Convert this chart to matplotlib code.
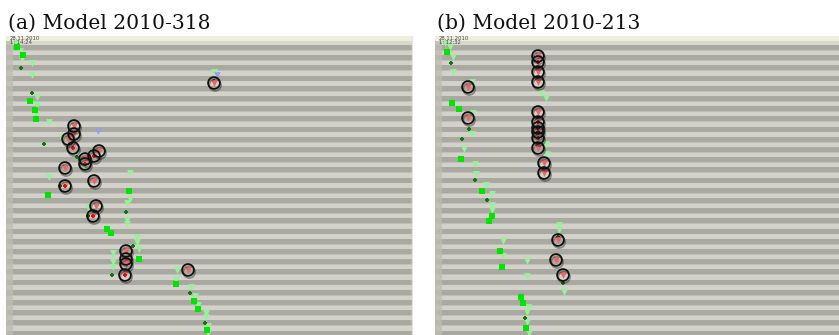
import matplotlib
matplotlib.use("Agg")
import matplotlib.pyplot as plt
import matplotlib.patheffects as pe

# Panel geometry in screen units (x = track position, y = time, both in px of the capture)
PANEL_H = 299

# ---- (a) Model 2010-318 ----
pale_a_x = [10, 14, 16, 26, 26, 31, 31, 30, 43, 56, 77, 43, 124, 124, 121, 82, 121, 121, 131, 131,
            133, 107, 107, 107, 171, 170, 185, 189, 192, 200, 200, 202, 202, 208]
pale_a_y = [7, 15, 23, 27, 39, 61, 69, 78, 86, 103, 130, 141, 137, 163, 167, 171, 184, 188, 201, 206,
            213, 217, 226, 231, 234, 243, 251, 260, 269, 277, 281, 290, 297, 36]
bright_a_x = [11, 17, 24, 29, 30, 42, 123, 101, 105, 133, 170, 188, 192, 201]
bright_a_y = [11, 19, 65, 74, 83, 159, 155, 193, 197, 223, 248, 265, 273, 294]
dark_a_x = [15, 26, 38, 71, 54, 82, 120, 127, 106, 184, 199, 208]
dark_a_y = [32, 57, 108, 121, 150, 180, 176, 210, 239, 257, 287, 45]
blue_a_x = [92, 211]
blue_a_y = [95, 39]
circ_a_x = [68, 68, 62, 67, 93, 88, 79, 79, 59, 88, 59, 90, 87, 120, 120, 120, 119, 182, 208]
circ_a_y = [90, 98, 103, 112, 115, 120, 123, 128, 132, 145, 150, 170, 180, 215, 223, 228, 239, 234, 47]
circ_a_kind = ['t', 't', 't', 'd', 't', 'd', 't', 'd', 't', 't', 'd', 't', 'd', 't', 't', 't', 'd', 't', 't']

# ---- (b) Model 2010-213 ----
pale_b_x = [10, 15, 18, 18, 37, 106, 111, 38, 37, 29, 111, 112, 40, 41, 51, 57, 57, 57, 124, 124,
            68, 68, 92, 92, 129, 93, 92, 92, 94]
pale_b_y = [7, 11, 21, 36, 46, 57, 62, 77, 98, 113, 108, 118, 128, 138, 149, 158, 169, 174, 189, 194,
            205, 220, 225, 240, 256, 271, 276, 286, 297]
bright_b_x = [12, 17, 24, 26, 47, 57, 54, 65, 67, 86, 88, 91]
bright_b_y = [16, 67, 73, 123, 155, 180, 185, 215, 231, 261, 267, 292]
dark_b_x = [16, 34, 27, 40, 52, 128, 90, 123]
dark_b_y = [27, 93, 103, 144, 164, 247, 282, 201]
circ_b_x = [103, 103, 103, 103, 33, 33, 103, 103, 103, 103, 103, 103, 109, 109, 123, 121, 128]
circ_b_y = [20, 26, 36, 46, 51, 82, 76, 86, 92, 96, 102, 112, 127, 137, 204, 224, 239]
circ_b_kind = ['t', 'd', 't', 't', 't', 't', 't', 'd', 'd', 'd', 'd', 't', 't', 't', 't', 't', 't']

TITLES = ["(a) Model 2010-318", "(b) Model 2010-213"]
STAMPS = [("28.11.2010", "1: 14:24"), ("28.11.2010", "1: 12:32")]


def draw_background(ax, width):
    ax.axhspan(0, 5, color="#eeeedc", lw=0)
    ax.axhspan(5, 9, color="#d8d8cc", lw=0)
    y = 9.0
    while y < PANEL_H:
        ax.axhspan(y, y + 5.0, color="#a9a9a1", lw=0)
        ax.axhspan(y + 5.0, y + 5.8, color="#c0c0b8", lw=0)
        ax.axhspan(y + 5.8, y + 10.2, color="#d2d2ca", lw=0)
        y += 10.2
    ax.axvspan(0, 7, ymin=0, ymax=1 - 5 / PANEL_H, color="#bdbdb5", lw=0, alpha=0.8)


def draw_panel(ax, width, title, stamp, pale, bright, dark, circ, kinds, blue=None):
    draw_background(ax, width)
    ax.scatter(*pale, marker="v", s=24, color="#96f296", lw=0, zorder=3)
    if blue is not None:
        ax.scatter(*blue, marker="v", s=22, color="#9a9af2", lw=0, zorder=3)
    ax.scatter(*bright, marker="s", s=13, color="#00e400", lw=0, zorder=3)
    ax.scatter(*dark, marker="P", s=10, color="#0c780c", lw=0, zorder=3)

    cx, cy = circ
    tx = [x for x, k in zip(cx, kinds) if k == 't']
    ty = [y for y, k in zip(cy, kinds) if k == 't']
    dx = [x for x, k in zip(cx, kinds) if k == 'd']
    dy = [y for y, k in zip(cy, kinds) if k == 'd']
    ax.scatter(tx, ty, marker="v", s=24, color="#f06464", lw=0, zorder=4)
    ax.scatter(dx, dy, marker="v", s=20, color="#f08080", lw=0, zorder=4)
    ax.scatter(dx, dy, marker="P", s=12, color="#d81010", lw=0, zorder=4)
    ax.scatter(cx, cy, marker="o", s=72, facecolor="none", edgecolor="#111111", lw=1.3, zorder=5,
               path_effects=[pe.SimpleLineShadow(offset=(0.8, -1.5), shadow_color="k", alpha=0.35),
                             pe.Normal()])

    ax.text(4, 0.5, stamp[0], fontsize=3.8, color="#444444", va="top", ha="left", zorder=6)
    ax.text(4, 4.2, stamp[1], fontsize=3.8, color="#444444", va="top", ha="left", zorder=6)

    ax.set_xlim(0, width)
    ax.set_ylim(PANEL_H, 0)
    ax.set_axis_off()
    ax.text(0.004, 1.012, title, transform=ax.transAxes, fontsize=14.6, family="DejaVu Serif",
            va="bottom", ha="left", color="#111111")


fig = plt.figure(figsize=(8.39, 3.35), dpi=100)
W, H = 839, 335
ax_a = fig.add_axes([6 / W, 0, 407 / W, PANEL_H / H])
ax_b = fig.add_axes([435 / W, 0, 404 / W, PANEL_H / H])

draw_panel(ax_a, 407, TITLES[0], STAMPS[0], (pale_a_x, pale_a_y), (bright_a_x, bright_a_y),
           (dark_a_x, dark_a_y), (circ_a_x, circ_a_y), circ_a_kind, blue=(blue_a_x, blue_a_y))
ax_a.axvline(406, color="#e4e4dc", lw=1)
draw_panel(ax_b, 404, TITLES[1], STAMPS[1], (pale_b_x, pale_b_y), (bright_b_x, bright_b_y),
           (dark_b_x, dark_b_y), (circ_b_x, circ_b_y), circ_b_kind)

fig.savefig("out.png", dpi=100)
